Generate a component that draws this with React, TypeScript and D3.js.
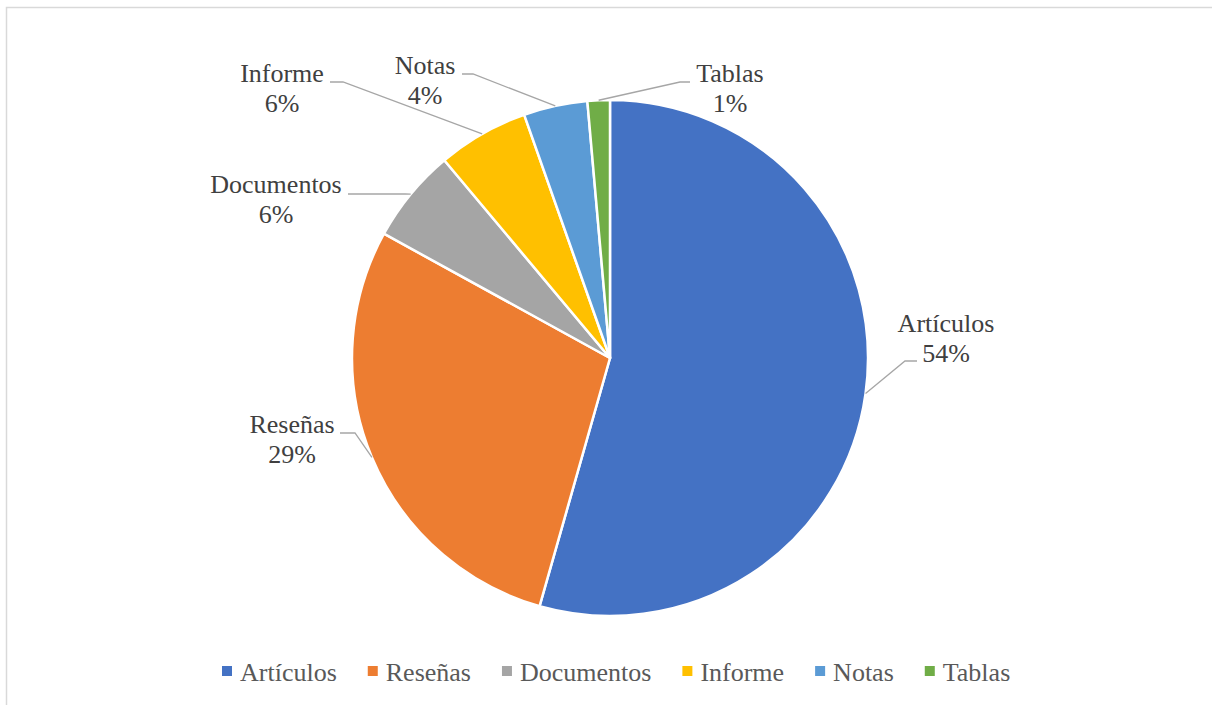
import React from "react";
import * as d3 from "d3";

const categories = ["Artículos", "Reseñas", "Documentos", "Informe", "Notas", "Tablas"];
const values = [54.4, 28.6, 5.9, 5.7, 4.0, 1.4];
const colors = ["#4472C4", "#ED7D31", "#A5A5A5", "#FFC000", "#5B9BD5", "#70AD47"];

// label layout offsets relative to pie center: text center (tx, ty = first baseline), horizontal leader start (hx, hy), elbow (ex, ey)
const labelLayout = [
  { tx: 336, ty: -26, hx: 307, hy: 3, ex: 295, ey: 3 },
  { tx: -318, ty: 75, hx: -270, hy: 75, ex: -255, ey: 75 },
  { tx: -334, ty: -165, hx: -262, hy: -164, ex: -205, ey: -164 },
  { tx: -328, ty: -276, hx: -280, hy: -276, ex: -267, ey: -276 },
  { tx: -185, ty: -284, hx: -148, hy: -284, ex: -137, ey: -284 },
  { tx: 120, ty: -276, hx: 80, hy: -276, ex: 70, ey: -276 },
];

const W = 1212;
const H = 705;
const CX = 610;
const CY = 358;
const R = 258;
const FONT = '"Liberation Serif", "Times New Roman", Tinos, "DejaVu Serif", serif';
const FS = 26;

function measure(text: string): number {
  const c = document.createElement("canvas").getContext("2d");
  if (!c) return text.length * 12;
  c.font = `${FS}px ${FONT}`;
  return c.measureText(text).width;
}

export default function App() {
  const total = d3.sum(values);
  const pie = d3.pie<number>().sort(null).value((d) => d);
  const arcs = pie(values);
  const arc = d3.arc<d3.PieArcDatum<number>>().innerRadius(0).outerRadius(R);

  const legendStart = 222;
  const sq = 10;
  const textGap = 8;
  let x = legendStart;
  const legendItems = categories.map((c, i) => {
    const item = { x, label: c, color: colors[i] };
    x += sq + textGap + measure(c) + 31;
    return item;
  });

  const textStyle = { fontFamily: FONT, fontSize: FS } as React.CSSProperties;

  return (
    <div style={{ position: "absolute", left: 0, top: 0, width: W, height: H, background: "#fff" }}>
      <svg width={W} height={H} style={{ display: "block" }}>
        <rect x={0} y={0} width={W} height={H} fill="#fff" />
        <rect x={6.5} y={7.5} width={W + 20} height={H + 20} fill="none" stroke="#d9d9d9" strokeWidth={1.5} />
        <g transform={`translate(${CX},${CY})`}>
          {arcs.map((a, i) => (
            <path key={i} d={arc(a) || ""} fill={colors[i]} stroke="#fff" strokeWidth={2.5} strokeLinejoin="round" />
          ))}
          {arcs.map((a, i) => {
            const mid = (a.startAngle + a.endAngle) / 2;
            const px = R * Math.sin(mid);
            const py = -R * Math.cos(mid);
            const L = labelLayout[i];
            const pct = Math.round((values[i] / total) * 100) + "%";
            return (
              <g key={"l" + i}>
                <polyline
                  points={`${L.hx},${L.hy} ${L.ex},${L.ey} ${px},${py}`}
                  fill="none"
                  stroke="#a6a6a6"
                  strokeWidth={1.3}
                />
                <text x={L.tx} y={L.ty} textAnchor="middle" style={textStyle} fill="#404040">
                  {categories[i]}
                </text>
                <text x={L.tx} y={L.ty + 30} textAnchor="middle" style={textStyle} fill="#404040">
                  {pct}
                </text>
              </g>
            );
          })}
        </g>
        <g>
          {legendItems.map((it, i) => (
            <g key={"lg" + i}>
              <rect x={it.x} y={666} width={sq} height={sq} fill={it.color} />
              <text x={it.x + sq + textGap} y={681} style={textStyle} fill="#595959">
                {it.label}
              </text>
            </g>
          ))}
        </g>
      </svg>
    </div>
  );
}
